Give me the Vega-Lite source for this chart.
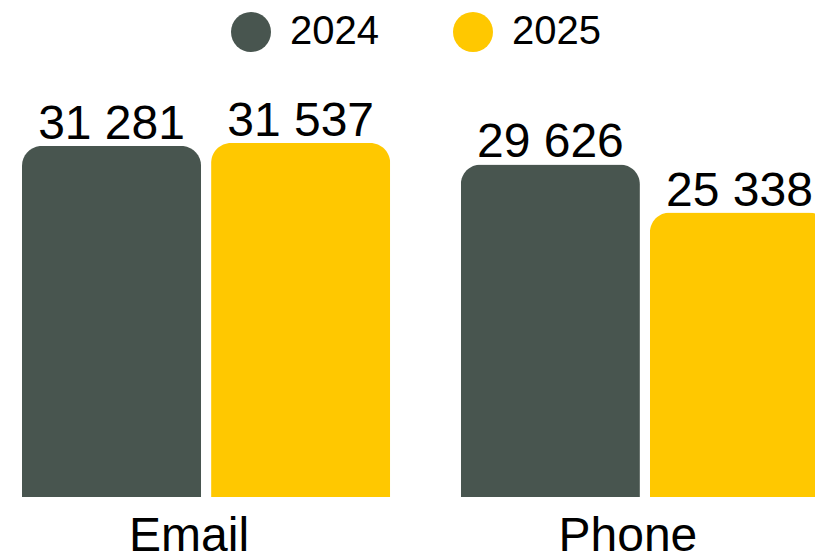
{
  "$schema": "https://vega.github.io/schema/vega-lite/v6.json",
  "width": 815,
  "height": 497,
  "autosize": {"type": "none"},
  "padding": {"top": 0, "left": 0, "right": 0, "bottom": 59},
  "config": {
    "view": {"stroke": null},
    "font": "Liberation Sans",
    "locale": {"number": {"decimal": ".", "thousands": " ", "grouping": [3], "currency": ["", ""]}}
  },
  "data": {
    "values": [
      {"channel": "Email", "year": "2024", "value": 31281},
      {"channel": "Email", "year": "2025", "value": 31537},
      {"channel": "Phone", "year": "2024", "value": 29626},
      {"channel": "Phone", "year": "2025", "value": 25338}
    ]
  },
  "encoding": {
    "x": {
      "field": "channel",
      "type": "nominal",
      "sort": ["Email", "Phone"],
      "scale": {"range": [22, 829], "paddingInner": 0.161, "paddingOuter": 0},
      "axis": {
        "title": null,
        "domain": false,
        "ticks": false,
        "tickSize": 0,
        "labelPadding": 15,
        "labelFontSize": 48,
        "labelColor": "black",
        "labelAngle": 0,
        "labelOffset": -17
      }
    },
    "xOffset": {
      "field": "year",
      "type": "nominal",
      "scale": {"paddingInner": 0.053, "paddingOuter": 0}
    },
    "y": {
      "field": "value",
      "type": "quantitative",
      "scale": {"domain": [0, 44277], "nice": false},
      "axis": null
    }
  },
  "layer": [
    {
      "mark": {"type": "bar", "cornerRadiusTopLeft": 20, "cornerRadiusTopRight": 20},
      "encoding": {
        "color": {
          "field": "year",
          "type": "nominal",
          "scale": {"range": ["#48554F", "#FFC800"]},
          "legend": {
            "title": null,
            "orient": "none",
            "legendX": 231,
            "legendY": 12,
            "direction": "horizontal",
            "symbolType": "circle",
            "symbolSize": 1600,
            "symbolStrokeWidth": 0,
            "symbolOpacity": 1,
            "labelFontSize": 40,
            "labelColor": "black",
            "labelOffset": 19,
            "columnPadding": 74,
            "padding": 0
          }
        }
      }
    },
    {
      "mark": {"type": "text", "baseline": "alphabetic", "dy": -7, "fontSize": 48, "color": "black"},
      "encoding": {
        "text": {"field": "value", "type": "quantitative", "format": ",d"}
      }
    }
  ]
}
